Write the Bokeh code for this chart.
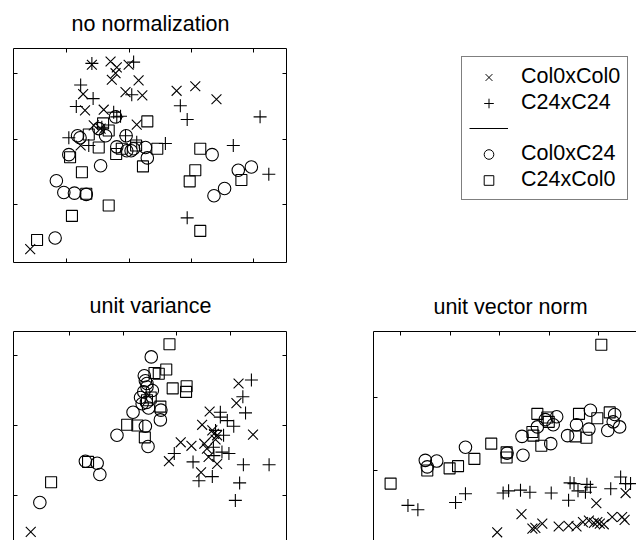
from bokeh.plotting import figure
from bokeh.models import (LinearAxis, FixedTicker, Legend, LegendItem,
                          Range1d, Label)
from bokeh.layouts import row, column
from bokeh.embed import file_html
from bokeh.resources import INLINE
from bokeh.core.properties import value

FONT = "Liberation Sans"
FSIZE = "21.5px"

# ---------------- data: "no normalization" ----------------
nn_col0col0_x = [1.40, 1.70, 1.80, 1.78, 1.99, 1.72, 2.15, 1.26, 1.94, 2.21, 1.29, 1.59, 1.43, 2.12, 1.22, 2.76, 3.06, 3.40, 0.41, 1.54]
nn_col0col0_y = [3.14, 3.19, 3.10, 3.01, 3.14, 2.91, 2.90, 2.69, 2.72, 2.67, 2.44, 2.45, 2.21, 2.22, 1.90, 2.74, 2.81, 2.61, 0.31, 2.16]
nn_c24c24_x = [1.40, 2.07, 1.22, 1.42, 1.15, 2.04, 1.75, 1.86, 1.80, 1.56, 1.03, 1.35, 2.12, 2.58, 2.82, 2.93, 4.10, 3.67, 4.24, 2.93, 1.94]
nn_c24c24_y = [3.16, 3.18, 2.83, 2.62, 2.50, 2.68, 2.41, 2.35, 2.34, 2.18, 2.02, 1.90, 1.95, 1.93, 2.51, 2.30, 2.34, 1.90, 1.46, 0.79, 2.05]
nn_col0c24_x = [1.17, 1.21, 1.03, 1.54, 0.83, 0.95, 1.12, 1.31, 0.81, 1.51, 1.62, 1.80, 1.78, 1.95, 1.96, 2.03, 2.07, 2.26, 2.29, 3.33, 3.36, 3.53, 3.75, 3.96]
nn_col0c24_y = [2.05, 2.02, 1.76, 1.59, 1.36, 1.18, 1.17, 1.15, 0.48, 2.16, 2.05, 1.88, 2.34, 2.05, 1.82, 1.82, 1.85, 1.87, 1.71, 1.76, 1.13, 1.24, 1.52, 1.57]
nn_c24col0_x = [2.29, 1.58, 1.67, 1.35, 1.51, 1.05, 1.24, 1.31, 1.67, 1.08, 0.52, 1.79, 1.88, 2.11, 2.22, 2.45, 3.14, 3.06, 2.97, 3.80, 3.14]
nn_c24col0_y = [2.27, 2.24, 2.13, 2.07, 1.87, 1.72, 1.49, 1.16, 0.98, 0.82, 0.45, 1.77, 1.85, 1.90, 1.58, 1.85, 1.85, 1.52, 1.35, 1.37, 0.59]

# ---------------- data: "unit variance" ----------------
uv_col0col0_x = [4.15, 4.11, 3.61, 3.47, 3.66, 3.69, 3.75, 3.72, 3.07, 3.27, 3.51, 3.56, 4.42, 2.85, 3.45, 3.59, 3.75, 0.27]
uv_col0col0_y = [2.60, 2.32, 2.20, 2.01, 1.93, 1.88, 1.86, 1.80, 1.76, 1.71, 1.74, 1.67, 1.87, 1.49, 1.33, 1.55, 1.45, 0.48]
uv_c24c24_x = [4.39, 4.23, 4.28, 3.81, 3.81, 3.94, 4.06, 3.72, 3.87, 3.68, 3.84, 3.97, 2.95, 3.30, 3.41, 3.66, 4.24, 4.72, 4.17, 4.09, 3.69]
uv_c24c24_y = [2.65, 2.41, 2.18, 2.19, 2.12, 2.07, 1.99, 1.93, 1.86, 1.69, 1.62, 1.60, 1.60, 1.48, 1.21, 1.27, 1.44, 1.44, 1.18, 0.93, 1.57]
uv_col0c24_x = [2.52, 2.39, 2.44, 2.41, 2.44, 2.38, 2.54, 2.32, 2.43, 2.35, 2.47, 2.18, 2.70, 2.69, 2.41, 1.88, 2.46, 1.29, 1.51, 1.56, 0.44]
uv_col0c24_y = [2.98, 2.71, 2.60, 2.64, 2.55, 2.48, 2.50, 2.40, 2.33, 2.31, 2.25, 2.19, 2.22, 2.08, 1.99, 1.86, 1.70, 1.49, 1.46, 1.30, 0.90]
uv_c24col0_x = [2.86, 2.58, 2.80, 2.66, 2.92, 3.18, 3.17, 2.69, 2.07, 2.26, 2.40, 0.65, 1.34, 2.51, 2.44]
uv_c24col0_y = [3.16, 2.75, 2.80, 2.74, 2.53, 2.56, 2.48, 2.27, 2.01, 2.00, 1.83, 1.19, 1.48, 2.40, 2.36]

# ---------------- data: "unit vector norm" ----------------
vn_col0col0_x = [2.95, 3.44, 3.66, 3.72, 3.86, 4.19, 4.39, 4.55, 4.68, 4.80, 4.90, 4.97, 5.02, 5.10, 5.27, 5.47, 5.52, 4.95, 5.54]
vn_col0col0_y = [0.15, 0.40, 0.20, 0.21, 0.27, 0.23, 0.24, 0.23, 0.29, 0.31, 0.28, 0.29, 0.27, 0.26, 0.36, 0.36, 0.32, 0.55, 0.69]
vn_c24c24_x = [1.15, 1.35, 2.11, 2.31, 3.07, 3.18, 3.42, 3.61, 4.04, 4.42, 4.50, 4.39, 4.58, 4.76, 4.83, 4.73, 5.24, 5.44, 5.54, 5.64]
vn_c24c24_y = [0.52, 0.46, 0.56, 0.68, 0.69, 0.72, 0.73, 0.70, 0.69, 0.83, 0.82, 0.59, 0.72, 0.81, 0.77, 0.70, 0.75, 0.91, 0.82, 0.82]
vn_col0c24_x = [1.50, 1.73, 1.54, 2.31, 3.15, 3.47, 3.45, 3.76, 3.92, 4.15, 4.08, 4.03, 4.55, 4.37, 4.80, 4.83, 5.32, 5.29, 5.42, 5.18]
vn_col0c24_y = [1.14, 1.13, 1.05, 1.32, 1.24, 1.21, 1.47, 1.60, 1.70, 1.74, 1.63, 1.37, 1.63, 1.48, 1.57, 1.83, 1.77, 1.67, 1.60, 1.55]
vn_c24col0_x = [5.05, 0.80, 1.54, 1.99, 2.16, 2.49, 2.83, 3.14, 3.14, 3.76, 3.96, 3.66, 3.68, 3.84, 4.60, 4.97, 4.53, 4.75, 5.22, 3.99]
vn_c24col0_y = [2.73, 0.82, 1.00, 1.03, 1.06, 1.16, 1.37, 1.25, 1.18, 1.78, 1.73, 1.53, 1.48, 1.34, 1.78, 1.72, 1.47, 1.45, 1.80, 1.67]

# ticks (unlabelled)
nn_xticks = [1, 2, 3, 4]
nn_yticks = [1, 2, 3]
uv_xticks = [1, 2, 3, 4]
uv_yticks = [1, 2, 3]
vn_xticks = [1, 2, 3, 4, 5]
vn_yticks = [1, 2]

titles = ["no normalization", "unit variance", "unit vector norm"]
series_labels = ["Col0xCol0", "C24xC24", "Col0xC24", "C24xCol0"]
markers = ["x", "cross", "circle", "square"]
msizes = [14, 13, 12.5, 11]
INK = "#000000"


def bare(width, height, borders=(0, 0, 0, 0), xr=(0, 1), yr=(0, 1)):
    ml, mr, mt, mb = borders
    p = figure(width=width, height=height, x_range=Range1d(*xr), y_range=Range1d(*yr),
               x_axis_location=None, y_axis_location=None, toolbar_location=None,
               output_backend="svg", title=None,
               min_border_left=ml, min_border_right=mr, min_border_top=mt, min_border_bottom=mb)
    p.outline_line_color = None
    p.background_fill_color = "white"
    p.border_fill_color = "white"
    p.grid.visible = False
    return p


def title_fig(text, width, height, cx, baseline):
    t = bare(width, height)
    t.add_layout(Label(x=cx, y=baseline, x_units="screen", y_units="screen",
                       text=text, text_align="center", text_baseline="alphabetic",
                       text_font=FONT, text_font_size=FSIZE, text_color="black"))
    return t


def panel(width, height, borders, xr, yr, sides, xticks, yticks, data):
    p = bare(width, height, borders, xr, yr)
    for side in sides:
        ticks = yticks if side in ("left", "right") else xticks
        ax = LinearAxis(ticker=FixedTicker(ticks=ticks))
        ax.major_tick_in = 4
        ax.major_tick_out = 0
        ax.minor_tick_in = 0
        ax.minor_tick_out = 0
        ax.major_label_text_font_size = "0px"
        ax.major_label_text_color = None
        ax.major_label_standoff = 0
        ax.axis_line_color = INK
        ax.major_tick_line_color = INK
        ax.axis_line_width = 1
        p.add_layout(ax, side)
    for (xs, ys), mk, sz in zip(data, markers, msizes):
        p.scatter(xs, ys, marker=mk, size=sz, line_color=INK, fill_color=None, line_width=1.1)
    return p


# title strips (their frames line up with the panel frames below them)
tA = title_fig(titles[0], 300, 40, 137, 16.3)
pA = panel(300, 245, (13, 14, 8, 23), (0.142, 4.524), (0.105, 3.389),
           ["left", "right", "above", "below"], nn_xticks, nn_yticks,
           [(nn_col0col0_x, nn_col0col0_y), (nn_c24c24_x, nn_c24c24_y),
            (nn_col0c24_x, nn_col0c24_y), (nn_c24col0_x, nn_c24col0_y)])

tB = title_fig(titles[1], 300, 36, 137, 15.2)
pB = panel(300, 219, (13, 14, 10, 0), (-0.052, 5.045), (0.357, 3.343),
           ["left", "right", "above"], uv_xticks, uv_yticks,
           [(uv_col0col0_x, uv_col0col0_y), (uv_c24c24_x, uv_c24c24_y),
            (uv_col0c24_x, uv_col0c24_y), (uv_c24col0_x, uv_c24col0_y)])

tC = title_fig(titles[2], 336, 36, 137, 15.0)
pC = panel(336, 219, (73, 0, 10, 0), (0.455, 5.76), (0.037, 2.913),
           ["left", "above"], vn_xticks, vn_yticks,
           [(vn_col0col0_x, vn_col0col0_y), (vn_c24c24_x, vn_c24c24_y),
            (vn_col0c24_x, vn_col0c24_y), (vn_c24col0_x, vn_c24col0_y)])

# legend figure: key renderers reuse the first panel's series, kept outside its view
pL = bare(336, 285, (161, 0, 56, 0), (50, 51), (50, 51))
key_data = [(nn_col0col0_x, nn_col0col0_y), (nn_c24c24_x, nn_c24c24_y),
            (nn_col0c24_x, nn_col0c24_y), (nn_c24col0_x, nn_c24col0_y)]
items = []
for lab, mk, (xs, ys) in zip(series_labels, markers, key_data):
    r = pL.scatter(xs, ys, marker=mk, size=10, line_color=INK, fill_color=None, line_width=1)
    items.append(LegendItem(label=value(lab), renderers=[r]))
sep = pL.line(nn_col0col0_x, nn_col0col0_y, line_color=INK, line_width=1)
items.insert(2, LegendItem(label=value(""), renderers=[sep]))
leg = Legend(items=items, location="top_left", margin=0, padding=7, spacing=1,
             glyph_width=39, glyph_height=24, label_height=24, label_standoff=13,
             label_text_font=FONT, label_text_font_size=FSIZE, label_text_color="black",
             border_line_color=INK, border_line_width=1, background_fill_color="white",
             background_fill_alpha=1.0)
pL.add_layout(leg, "center")

layout = column(row(column(tA, pA), pL), row(column(tB, pB), column(tC, pC)))

with open("out.html", "w") as f:
    f.write(file_html(layout, INLINE))
